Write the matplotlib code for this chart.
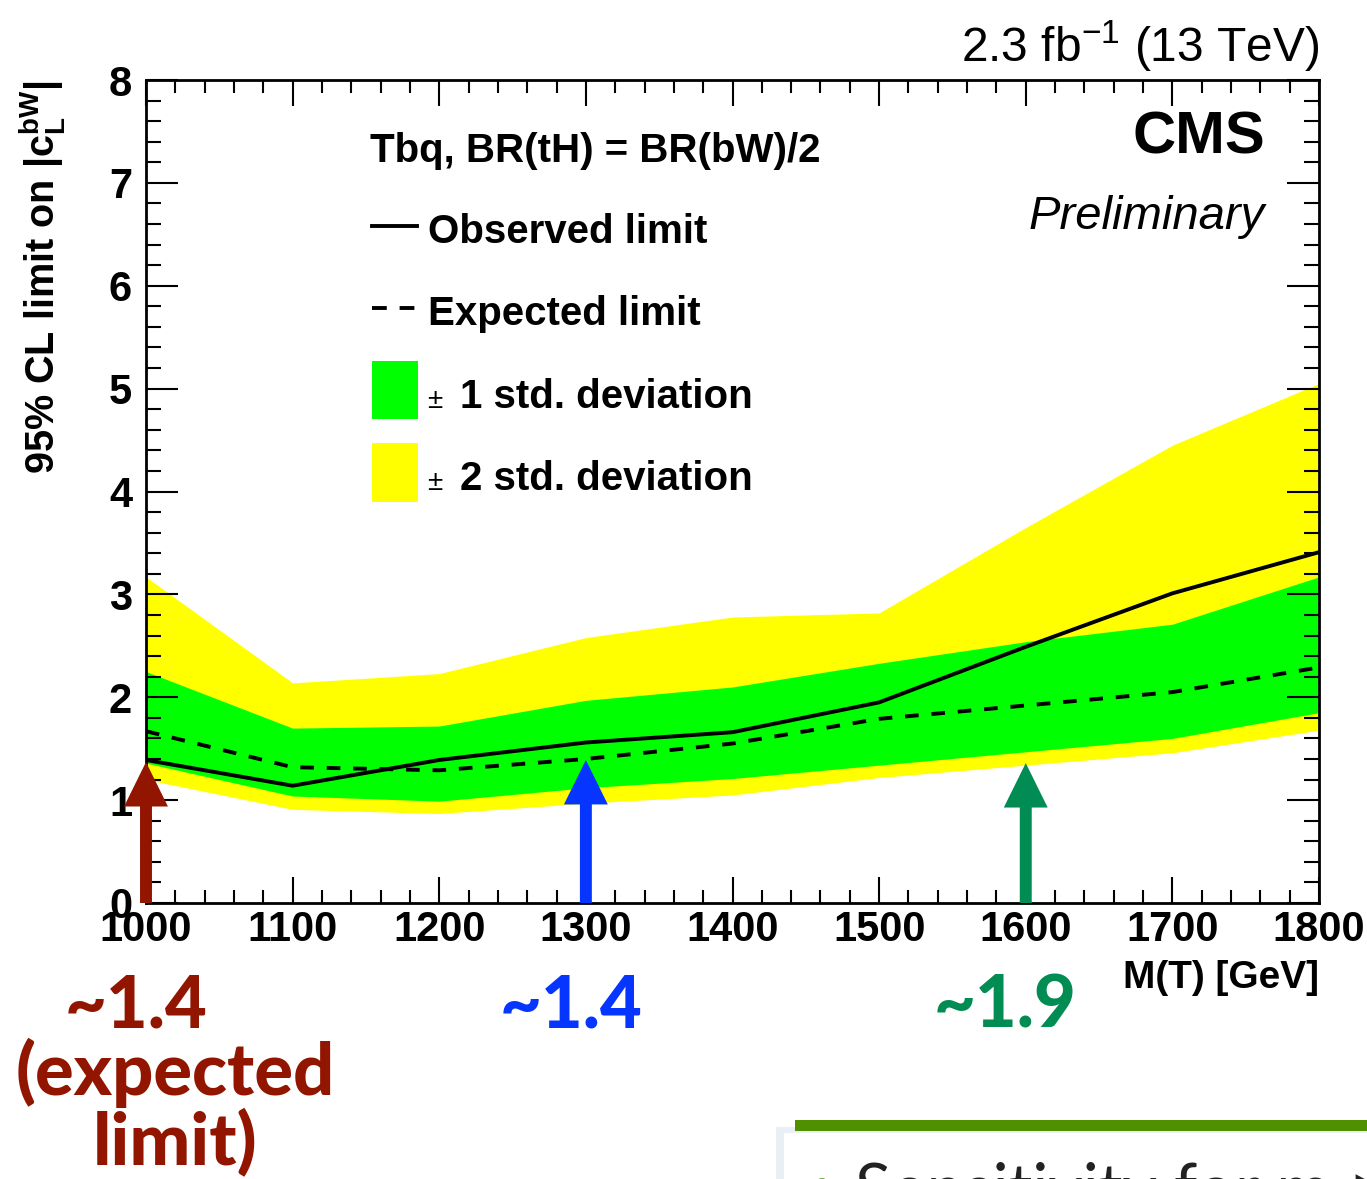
import matplotlib
matplotlib.use('Agg')
import matplotlib.pyplot as plt
from matplotlib.patches import Rectangle, Circle, FancyArrowPatch
from matplotlib.lines import Line2D
from matplotlib.ticker import MultipleLocator

# limit values
mass = [1000, 1100, 1200, 1300, 1400, 1500, 1600, 1700, 1800]
observed = [1.39, 1.14, 1.39, 1.56, 1.66, 1.95, 2.49, 3.01, 3.41]
expected = [1.67, 1.32, 1.29, 1.40, 1.55, 1.79, 1.92, 2.05, 2.29]
sig1_lo = [1.36, 1.04, 0.99, 1.12, 1.21, 1.34, 1.47, 1.60, 1.85]
sig1_hi = [2.25, 1.70, 1.72, 1.97, 2.10, 2.33, 2.54, 2.71, 3.17]
sig2_lo = [1.20, 0.91, 0.87, 0.97, 1.05, 1.22, 1.34, 1.46, 1.68]
sig2_hi = [3.17, 2.14, 2.23, 2.58, 2.78, 2.82, 3.65, 4.45, 5.05]

# sensitivity markers added on the slide
arrow_mass = [1000, 1300, 1600]
arrow_tip = [1.37, 1.39, 1.36]
arrow_colors = ['#921500', '#0535ff', '#008c52']

W, H = 1367, 1179
plt.rcParams['font.family'] = 'Liberation Sans'
plt.rcParams['mathtext.fontset'] = 'custom'
plt.rcParams['mathtext.rm'] = 'Liberation Sans'
plt.rcParams['mathtext.it'] = 'Liberation Sans:italic'
plt.rcParams['mathtext.bf'] = 'Liberation Sans:bold'


def fx(x):
    return x / W


def fy(y):
    return 1 - y / H


fig = plt.figure(figsize=(W / 100, H / 100), dpi=100)
ax = fig.add_axes([fx(146), fy(903), (1319 - 146) / W, (903 - 80) / H])

ax.fill_between(mass, sig2_lo, sig2_hi, color='#ffff00', lw=0)
ax.fill_between(mass, sig1_lo, sig1_hi, color='#00ff00', lw=0)
ax.plot(mass, expected, color='k', lw=2.8, ls=(0, (3.5, 3.3)))
ax.plot(mass, observed, color='k', lw=2.8)

ax.set_xlim(1000, 1800)
ax.set_ylim(0, 8)
ax.xaxis.set_major_locator(MultipleLocator(100))
ax.xaxis.set_minor_locator(MultipleLocator(20))
ax.yaxis.set_major_locator(MultipleLocator(1))
ax.yaxis.set_minor_locator(MultipleLocator(0.2))
ax.tick_params(which='both', direction='in', top=True, right=True,
               width=1.5, labelsize=30)
ax.tick_params(axis='x', which='major', length=19, pad=5)
ax.tick_params(axis='x', which='minor', length=9.5)
ax.tick_params(axis='y', which='major', length=23, pad=10)
ax.tick_params(axis='y', which='minor', length=11)
for lab in ax.get_xticklabels() + ax.get_yticklabels():
    lab.set_fontweight('bold')
for s in ax.spines.values():
    s.set_linewidth(2)

for x, tip, c in zip(arrow_mass, arrow_tip, arrow_colors):
    arr = FancyArrowPatch((x, 0), (x, tip),
                          arrowstyle='simple,head_length=1.6,head_width=1.58,tail_width=0.43',
                          mutation_scale=20, color=c, lw=0,
                          shrinkA=0, shrinkB=0, clip_on=False, zorder=6)
    ax.add_patch(arr)

# axis titles
fig.text(fx(42), fy(80), r'95% CL limit on $\mathbf{|c^{bW}_{L}|}$', rotation=90,
         ha='center', va='top', fontsize=28.5, fontweight='bold')
fig.text(fx(1319), fy(988), 'M(T) [GeV]', ha='right', va='baseline',
         fontsize=28, fontweight='bold')

# header
fig.text(fx(1319), fy(62), r'2.3 fb$^{-1}$ (13 TeV)', ha='right', va='baseline',
         fontsize=34.5)
fig.text(fx(1265), fy(154), 'CMS', ha='right', va='baseline', fontsize=43,
         fontweight='bold')
fig.text(fx(1265), fy(229), 'Preliminary', ha='right', va='baseline',
         fontsize=34, style='italic')

# legend drawn by hand, ROOT style
fig.text(fx(370), fy(162), 'Tbq, BR(tH) = BR(bW)/2', ha='left', va='baseline',
         fontsize=29, fontweight='bold')
fig.add_artist(Line2D([fx(372), fx(417)], [fy(226), fy(226)],
                      transform=fig.transFigure, color='k', lw=2.8))
fig.text(fx(428), fy(243), 'Observed limit', ha='left', va='baseline',
         fontsize=29, fontweight='bold')
fig.add_artist(Line2D([fx(372), fx(417)], [fy(308), fy(308)],
                      transform=fig.transFigure, color='k', lw=2.8,
                      ls=(0, (3.8, 3.3))))
fig.text(fx(428), fy(325), 'Expected limit', ha='left', va='baseline',
         fontsize=29, fontweight='bold')
fig.add_artist(Rectangle((fx(372), fy(419)), 46 / W, 58 / H,
                         transform=fig.transFigure, color='#00ff00', lw=0))
fig.add_artist(Rectangle((fx(372), fy(502)), 46 / W, 59 / H,
                         transform=fig.transFigure, color='#ffff00', lw=0))
for base, n in [(408, '1'), (490, '2')]:
    fig.text(fx(427), fy(base), '±', ha='left', va='baseline', fontsize=20)
    fig.text(fx(460), fy(base), n + ' std. deviation', ha='left', va='baseline',
             fontsize=29, fontweight='bold')

# slide annotations
big = dict(ha='center', va='baseline', fontsize=52, fontweight='black',
           family=['Lato', 'DejaVu Sans'])
fig.text(fx(136), fy(1027), '~1.4', color=arrow_colors[0], **big)
fig.text(fx(175), fy(1095), '(expected', color=arrow_colors[0], **big)
fig.text(fx(175), fy(1165), 'limit)', color=arrow_colors[0], **big)
fig.text(fx(571), fy(1027), '~1.4', color=arrow_colors[1], **big)
fig.text(fx(1005), fy(1027), '~1.9', color=arrow_colors[2], **big)

# next slide box peeking in at bottom right
fig.add_artist(Rectangle((fx(776), fy(1179)), (W - 776) / W, 52 / H,
                         transform=fig.transFigure, color='#e9eff4', lw=0))
fig.add_artist(Rectangle((fx(784), fy(1179)), (W - 784) / W, 46 / H,
                         transform=fig.transFigure, color='white', lw=0))
fig.add_artist(Rectangle((fx(795), fy(1131)), (W - 795) / W, 11 / H,
                         transform=fig.transFigure, color='#4f8f00', lw=0))
fig.add_artist(Circle((fx(822), fy(1186)), 9 / W, transform=fig.transFigure,
                      color='#4f8f00', lw=0))
fig.text(fx(855), fy(1212), 'Sensitivity for m >', ha='left', va='baseline',
         fontsize=48, color='#222222', family=['Lato', 'DejaVu Sans'])

fig.savefig('out.png', dpi=100)
